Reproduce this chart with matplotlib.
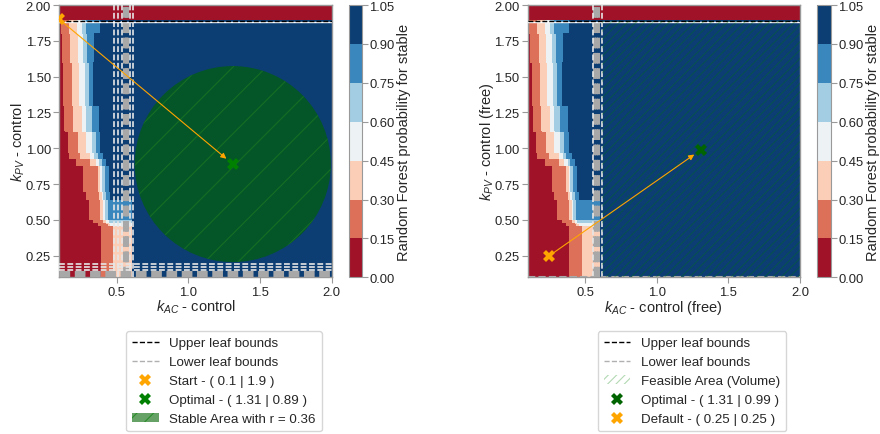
import numpy as np
import matplotlib
matplotlib.use('Agg')
import matplotlib.pyplot as plt
from matplotlib.lines import Line2D
from matplotlib.patches import Patch, Circle, Rectangle

plt.rcParams['font.family'] = ['Liberation Sans', 'DejaVu Sans']
plt.rcParams['mathtext.fontset'] = 'custom'
plt.rcParams['mathtext.rm'] = 'Liberation Sans'
plt.rcParams['mathtext.it'] = 'Liberation Sans:italic'
plt.rcParams['hatch.linewidth'] = 0.8

# ---------------- data ----------------
x_range = (0.1, 2.0)
y_range = (0.1, 2.0)
levels = [0.00, 0.15, 0.30, 0.45, 0.60, 0.75, 0.90, 1.05]

# kPV bands (lower edges) and the kAC positions where probability crosses each level
band_edges = [0.10, 0.46, 0.48, 0.50, 0.64, 0.70, 0.88, 0.93, 0.97, 1.12, 1.30, 1.60, 1.80, 1.89, 2.00]
t15 = [0.395, 0.37, 0.34, 0.31, 0.29, 0.27, 0.22, 0.17, 0.16, 0.14, 0.13, 0.12, 0.115, 9]
t30 = [0.48, 0.44, 0.41, 0.39, 0.38, 0.37, 0.32, 0.25, 0.235, 0.20, 0.19, 0.18, 0.17, 9]
t45 = [0.61, 0.46, 0.43, 0.41, 0.40, 0.39, 0.36, 0.32, 0.29, 0.26, 0.24, 0.235, 0.225, 9]
t60 = [0.61, 0.61, 0.45, 0.42, 0.41, 0.40, 0.38, 0.35, 0.33, 0.29, 0.28, 0.27, 0.26, 9]
t75 = [0.61, 0.61, 0.61, 0.44, 0.43, 0.42, 0.40, 0.37, 0.36, 0.33, 0.31, 0.30, 0.29, 9]
t90 = [0.61, 0.61, 0.61, 0.61, 0.46, 0.45, 0.43, 0.41, 0.39, 0.38, 0.34, 0.35, 0.39, 9]

# leaf bound lines
left_vlines_light = [0.48, 0.51, 0.535, 0.595, 0.616]
left_vlines_grey = [0.55, 0.562, 0.574]
left_hlines_light = [0.193, 0.172, 0.152]
left_hlines_grey = [0.135, 0.115]
right_vlines_light = [0.553, 0.616]
right_vlines_grey = [0.565, 0.578, 0.59]
right_hlines_grey = [0.104]
upper_bound_kpv = 1.89

# points
start_left = (0.1, 1.9)
opt_left = (1.31, 0.89)
radius_left = 0.36
default_right = (0.25, 0.25)
opt_right = (1.31, 0.99)
feasible_kac = (0.62, 2.0)
feasible_kpv = (0.1, 1.89)

# ---------------- field ----------------
xs = np.linspace(x_range[0], x_range[1], 700)
ys = np.linspace(y_range[0], y_range[1], 700)
XX, YY = np.meshgrid(xs, ys)
T = np.array([t15, t30, t45, t60, t75, t90]).T
idx = np.clip(np.searchsorted(band_edges, ys, side='right') - 1, 0, len(t15) - 1)
Trow = T[idx]  # (ny, 6)
Z = 0.075 + 0.15 * (XX[:, :, None] >= Trow[:, None, :]).sum(-1)

fig = plt.figure(figsize=(8.8, 4.35), dpi=100)
W, H = 880, 435

def fr(x0, y0, x1, y1):
    return [x0 / W, 1 - y1 / H, (x1 - x0) / W, (y1 - y0) / H]

axL = fig.add_axes(fr(59.3, 6, 331.7, 278.3))
caxL = fig.add_axes(fr(349, 6, 361.7, 278.3))
axR = fig.add_axes(fr(527.7, 6, 800, 278.3))
caxR = fig.add_axes(fr(817.3, 6, 830.7, 278.3))

edge = '0.6'
tick_fs = 9.4
lab_fs = 10.5

def base(ax, cax, xlabel, ylabel):
    cs = ax.contourf(XX, YY, Z, levels=levels, cmap='RdBu', vmin=0.0, vmax=1.0)
    ax.set_xlim(*x_range)
    ax.set_ylim(*y_range)
    ax.set_xticks([0.5, 1.0, 1.5, 2.0])
    ax.set_xticklabels(['0.5', '1.0', '1.5', '2.0'])
    ax.set_yticks([0.25, 0.5, 0.75, 1.0, 1.25, 1.5, 1.75, 2.0])
    ax.set_yticklabels(['%.2f' % v for v in [0.25, 0.5, 0.75, 1.0, 1.25, 1.5, 1.75, 2.0]])
    ax.tick_params(labelsize=tick_fs, colors='0.15', length=4, width=0.8, color=edge, pad=2)
    for s in ax.spines.values():
        s.set_color(edge)
        s.set_linewidth(1.0)
    ax.set_xlabel(xlabel, fontsize=lab_fs, color='0.15', labelpad=0)
    ax.set_ylabel(ylabel, fontsize=lab_fs, color='0.15', labelpad=-1)
    cb = fig.colorbar(cs, cax=cax, ticks=levels)
    cb.ax.set_yticklabels(['%.2f' % v for v in levels])
    cb.ax.tick_params(labelsize=tick_fs, colors='0.15', length=4, width=0.8, color=edge, pad=1.5)
    cb.outline.set_edgecolor(edge)
    cb.set_label('Random Forest probability for stable', fontsize=lab_fs, color='0.15', labelpad=2)
    return cs

light = '#e6e6e6'
grey = '#a8a8a8'
dash = (0, (3.5, 1.5))

# ---- left panel ----
base(axL, caxL, '$k_{AC}$ - control', '$k_{PV}$ - control')
for x in left_vlines_grey:
    axL.axvline(x, color=grey, lw=2.2, ls=dash, zorder=3)
for x in left_vlines_light:
    axL.axvline(x, color=light, lw=1.2, ls=dash, zorder=3)
for y in left_hlines_grey:
    axL.axhline(y, color=grey, lw=2.2, ls=dash, zorder=3)
for y in left_hlines_light:
    axL.axhline(y, color=light, lw=1.2, ls=dash, zorder=3)
axL.axhline(upper_bound_kpv - 0.006, color='white', lw=1.0, zorder=3)
axL.axhline(upper_bound_kpv, color='black', lw=1.0, ls=dash, zorder=3)
r_data = radius_left * (x_range[1] - x_range[0])
circ = Circle(opt_left, r_data, facecolor='darkgreen', edgecolor='#1f7a1f', alpha=0.65,
              hatch='/', lw=0, zorder=4)
axL.add_patch(circ)
axL.annotate('', xy=opt_left, xytext=start_left,
             arrowprops=dict(arrowstyle='-|>', color='orange', lw=0.8, shrinkA=0, shrinkB=6,
                             mutation_scale=8), zorder=5)
axL.plot(*start_left, marker='X', color='orange', ms=8, mew=0, ls='none', zorder=6)
axL.plot(*opt_left, marker='X', color='green', ms=8, mew=0, ls='none', zorder=6)

# ---- right panel ----
base(axR, caxR, '$k_{AC}$ - control (free)', '$k_{PV}$ - control (free)')
for x in right_vlines_grey:
    axR.axvline(x, color=grey, lw=2.2, ls=dash, zorder=3)
for x in right_vlines_light:
    axR.axvline(x, color=light, lw=1.2, ls=dash, zorder=3)
for y in right_hlines_grey:
    axR.axhline(y, color=grey, lw=1.5, ls=dash, zorder=3)
axR.axhline(upper_bound_kpv - 0.006, color='white', lw=1.0, zorder=3)
axR.axhline(upper_bound_kpv, color='black', lw=1.0, ls=dash, zorder=3)
rect = Rectangle((feasible_kac[0], feasible_kpv[0]), feasible_kac[1] - feasible_kac[0],
                 feasible_kpv[1] - feasible_kpv[0], fill=False, hatch='////',
                 edgecolor='green', alpha=0.3, lw=0, zorder=4)
axR.add_patch(rect)
axR.annotate('', xy=opt_right, xytext=default_right,
             arrowprops=dict(arrowstyle='-|>', color='orange', lw=0.8, shrinkA=3, shrinkB=6,
                             mutation_scale=8), zorder=5)
axR.plot(*default_right, marker='X', color='orange', ms=9, mew=0, ls='none', zorder=6)
axR.plot(*opt_right, marker='X', color='darkgreen', ms=9, mew=0, ls='none', zorder=6)

# ---- legends ----
def fmt(v):
    return ('%g' % v)

hU = Line2D([], [], color='black', lw=1.0, ls='--')
hL = Line2D([], [], color='#b0b0b0', lw=1.0, ls='--')
hS = Line2D([], [], marker='X', color='orange', ms=8, mew=0, ls='none')
hO = Line2D([], [], marker='X', color='green', ms=8, mew=0, ls='none')
hA = Patch(facecolor='darkgreen', edgecolor='green', alpha=0.6, hatch='//', lw=0)
legL = fig.legend([hU, hL, hS, hO, hA],
                  ['Upper leaf bounds', 'Lower leaf bounds',
                   f'Start - ( {fmt(start_left[0])} | {fmt(start_left[1])} )',
                   f'Optimal - ( {fmt(opt_left[0])} | {fmt(opt_left[1])} )',
                   f'Stable Area with r = {fmt(radius_left)}'],
                  loc='upper center', bbox_to_anchor=(224 / W, 1 - 332 / H),
                  fontsize=9.6, labelspacing=0.5, frameon=True, borderpad=0.45,
                  borderaxespad=0)

hF = Patch(fill=False, edgecolor='green', alpha=0.3, hatch='////', lw=0)
hO2 = Line2D([], [], marker='X', color='darkgreen', ms=8, mew=0, ls='none')
legR = fig.legend([hU, hL, hF, hO2, hS],
                  ['Upper leaf bounds', 'Lower leaf bounds', 'Feasible Area (Volume)',
                   f'Optimal - ( {fmt(opt_right[0])} | {fmt(opt_right[1])} )',
                   f'Default - ( {fmt(default_right[0])} | {fmt(default_right[1])} )'],
                  loc='upper center', bbox_to_anchor=(692 / W, 1 - 332 / H),
                  fontsize=9.6, labelspacing=0.5, frameon=True, borderpad=0.45,
                  borderaxespad=0)
for lg in (legL, legR):
    for t in lg.get_texts():
        t.set_color('0.15')

fig.savefig('out.png', dpi=100)
